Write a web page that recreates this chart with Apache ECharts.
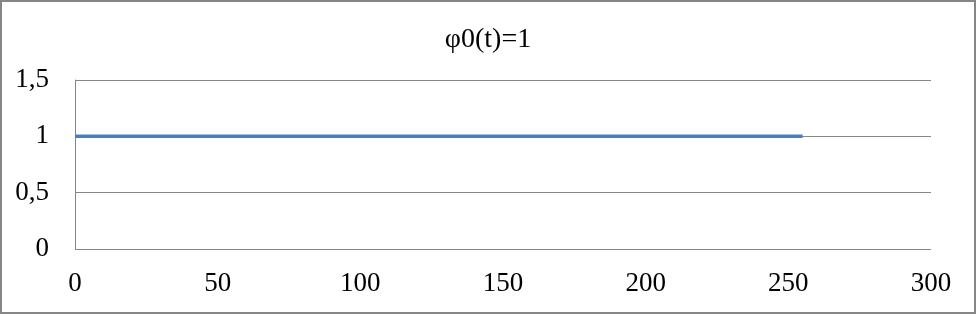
<!DOCTYPE html>
<html><head><meta charset="utf-8">
<script src="https://cdn.jsdelivr.net/npm/echarts@6/dist/echarts.min.js"></script>
<style>html,body{margin:0;padding:0;background:#fff}#c{width:976px;height:314px}</style>
</head><body><div id="c"></div>
<script>
var titleText = 'φ0(t)=1';
var tValues = [0, 255];
var phiValues = [1, 1];
var xTicks = {min: 0, max: 300, interval: 50};
var yTicks = {min: 0, max: 1.5, interval: 0.5};

var chart = echarts.init(document.getElementById('c'), null, {renderer: 'canvas'});
var font = '"Liberation Serif","Times New Roman",serif';
chart.setOption({
  animation: false,
  backgroundColor: '#fff',
  title: {text: titleText, left: 'center', top: 21, textStyle: {fontFamily: font, fontSize: 28, fontWeight: 'normal', color: '#000'}},
  grid: {left: 75, right: 45, top: 80, bottom: 65, containLabel: false},
  graphic: [{type: 'rect', shape: {x: 1, y: 1, width: 974, height: 312}, style: {fill: 'none', stroke: '#868686', lineWidth: 2}, silent: true, z: 100}],
  xAxis: {type: 'value', min: xTicks.min, max: xTicks.max, interval: xTicks.interval,
    axisLine: {show: false}, axisTick: {show: false}, splitLine: {show: false},
    axisLabel: {fontFamily: font, fontSize: 27, color: '#000', margin: 21}},
  yAxis: {type: 'value', min: yTicks.min, max: yTicks.max, interval: yTicks.interval,
    axisLine: {show: true, lineStyle: {color: '#868686', width: 1}}, axisTick: {show: false},
    splitLine: {show: true, lineStyle: {color: '#868686', width: 1}},
    axisLabel: {fontFamily: font, fontSize: 27, color: '#000', margin: 26,
      formatter: function (v) { return String(v).replace('.', ','); }}},
  series: [{type: 'line', data: tValues.map(function (t, i) { return [t, phiValues[i]]; }),
    showSymbol: false, lineStyle: {color: '#4a7ebb', width: 3.5}}]
});
</script></body></html>
